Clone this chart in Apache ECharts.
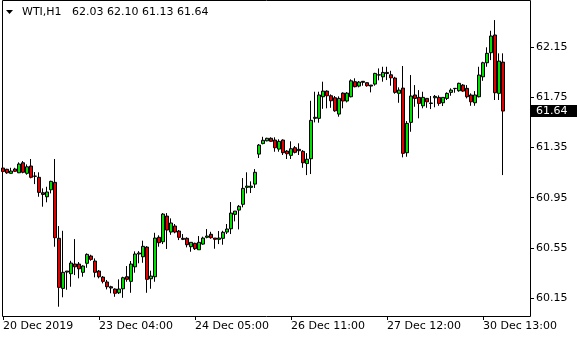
<!DOCTYPE html>
<html>
<head>
<meta charset="utf-8">
<script src="https://cdn.jsdelivr.net/npm/echarts@6/dist/echarts.min.js"></script>
<style>
  html, body { margin: 0; padding: 0; background: #fff; }
  #chart { width: 580px; height: 340px; }
</style>
</head>
<body>
<div id="chart"></div>
<script>
const symbolName = 'WTI,H1';
const tickLabels = ['20 Dec 2019', '23 Dec 04:00', '24 Dec 05:00', '26 Dec 11:00', '27 Dec 12:00', '30 Dec 13:00'];
const barsPerTick = 24;
const emptyBarsRight = 7;
const priceTicks = [60.15, 60.55, 60.95, 61.35, 61.75, 62.15];
const priceMin = 60.007;
const priceMax = 62.517;

const opens = [
  61.186,61.176,61.144,61.178,61.148,61.228,61.144,61.202,61.122,61.112,
  60.989,60.957,61.013,61.072,60.626,60.227,60.357,60.344,60.421,60.421,
  60.355,60.427,60.485,60.445,60.365,60.317,60.278,60.240,60.222,60.192,
  60.224,60.320,60.283,60.399,60.501,60.479,60.556,60.304,60.320,60.634,
  60.599,60.803,60.676,60.724,60.684,60.626,60.626,60.559,60.586,60.535,
  60.580,60.634,60.658,60.628,60.618,60.626,60.676,60.702,60.817,60.851,
  60.897,61.032,61.032,61.058,61.297,61.381,61.403,61.423,61.409,61.337,
  61.409,61.321,61.287,61.348,61.335,61.319,61.222,61.260,61.582,61.582,
  61.754,61.799,61.762,61.746,61.616,61.783,61.720,61.754,61.874,61.839,
  61.877,61.866,61.847,61.855,61.927,61.913,61.948,61.929,61.903,61.781,
  61.823,61.308,61.550,61.768,61.749,61.682,61.741,61.704,61.746,61.749,
  61.706,61.741,61.789,61.821,61.802,61.847,61.821,61.768,61.706,61.754,
  61.913,62.025,62.105,62.246,61.781,62.03
];
const closes = [
  61.158,61.148,61.162,61.160,61.218,61.152,61.196,61.112,61.120,60.992,
  60.976,60.995,61.080,60.631,60.235,60.355,60.365,60.429,60.399,60.383,
  60.405,60.498,60.458,60.355,60.320,60.283,60.240,60.230,60.188,60.222,
  60.312,60.299,60.421,60.501,60.509,60.562,60.299,60.325,60.628,60.591,
  60.819,60.692,60.748,60.676,60.634,60.618,60.575,60.594,60.543,60.594,
  60.628,60.644,60.631,60.618,60.628,60.674,60.700,60.827,60.843,60.881,
  61.024,61.042,61.042,61.152,61.369,61.407,61.423,61.399,61.348,61.399,
  61.308,61.300,61.340,61.311,61.324,61.228,61.256,61.566,61.590,61.768,
  61.799,61.762,61.722,61.642,61.741,61.720,61.783,61.881,61.834,61.871,
  61.869,61.842,61.839,61.940,61.929,61.948,61.939,61.905,61.789,61.807,
  61.303,61.542,61.760,61.741,61.701,61.749,61.714,61.701,61.757,61.701,
  61.749,61.781,61.807,61.819,61.861,61.799,61.754,61.714,61.768,61.927,
  62.025,62.100,62.238,61.786,62.038,61.64
];
const lows = [
  61.117,61.140,61.140,61.154,61.146,61.144,61.133,61.104,61.058,60.957,
  60.878,60.913,60.984,60.559,60.081,60.156,60.216,60.240,60.333,60.307,
  60.320,60.391,60.447,60.315,60.307,60.267,60.219,60.188,60.160,60.182,
  60.152,60.280,60.192,60.352,60.427,60.431,60.192,60.224,60.280,60.559,
  60.580,60.541,60.654,60.666,60.612,60.612,60.554,60.519,60.533,60.533,
  60.575,60.626,60.623,60.543,60.580,60.575,60.660,60.660,60.761,60.697,
  60.873,60.984,60.987,61.027,61.266,61.375,61.399,61.395,61.316,61.316,
  61.290,61.258,61.258,61.303,61.290,61.188,61.130,61.138,61.550,61.547,
  61.658,61.662,61.666,61.634,61.595,61.662,61.709,61.749,61.829,61.829,
  61.842,61.834,61.789,61.842,61.885,61.874,61.887,61.842,61.778,61.706,
  61.271,61.276,61.475,61.674,61.582,61.662,61.666,61.656,61.670,61.682,
  61.680,61.728,61.762,61.786,61.794,61.794,61.741,61.682,61.682,61.749,
  61.881,61.993,62.046,61.728,61.728,61.13
];
const highs = [
  61.196,61.180,61.188,61.188,61.231,61.242,61.215,61.258,61.154,61.152,
  61.024,61.037,61.085,61.258,60.724,60.686,60.365,60.447,60.620,60.437,
  60.411,60.506,60.495,60.466,60.373,60.325,60.294,60.248,60.227,60.299,
  60.320,60.405,60.445,60.522,60.524,60.607,60.564,60.368,60.670,60.650,
  60.827,60.827,60.785,60.740,60.692,60.660,60.634,60.594,60.591,60.644,
  60.639,60.700,60.678,60.628,60.684,60.686,60.740,60.915,60.843,60.891,
  61.106,61.152,61.080,61.178,61.377,61.435,61.427,61.431,61.431,61.415,
  61.415,61.329,61.399,61.361,61.383,61.329,61.305,61.722,61.794,61.794,
  61.874,61.805,61.773,61.760,61.757,61.789,61.791,61.893,61.901,61.879,
  61.879,61.869,61.847,61.945,61.980,61.993,61.993,61.961,61.913,61.829,
  61.999,61.560,61.927,61.847,61.807,61.794,61.741,61.760,61.768,61.765,
  61.749,61.789,61.821,61.823,61.866,61.855,61.847,61.781,61.799,61.993,
  62.033,62.148,62.280,62.365,62.100,62.10
];

const nBars = opens.length + emptyBarsRight;
const categories = [];
for (let i = 0; i < nBars; i++) categories.push(String(i));
const candleData = opens.map((o, i) => [o, closes[i], lows[i], highs[i]]);
const isTick = (i) => i % barsPerTick === 0 && (i / barsPerTick) < tickLabels.length;

const FONT = 'DejaVu Sans';
const chart = echarts.init(document.getElementById('chart'), null, { renderer: 'canvas' });

chart.setOption({
  animation: false,
  backgroundColor: '#ffffff',
  grid: { left: 3, right: 49, top: 1, bottom: 24, show: false },
  xAxis: {
    type: 'category',
    data: categories,
    boundaryGap: false,
    axisLine: { show: false },
    axisTick: { show: true, length: 4, interval: (i) => isTick(i), lineStyle: { color: '#000', width: 1 } },
    axisLabel: {
      show: true,
      interval: (i) => isTick(i),
      formatter: (v, i) => tickLabels[i / barsPerTick] || '',
      align: 'left',
      margin: 5,
      color: '#000',
      fontFamily: FONT,
      fontSize: 11
    },
    splitLine: { show: false }
  },
  yAxis: {
    type: 'value',
    position: 'right',
    min: priceMin,
    max: priceMax,
    scale: true,
    axisLine: { show: false },
    axisTick: { show: true, length: 3, customValues: priceTicks, lineStyle: { color: '#000' } },
    axisLabel: {
      show: true,
      customValues: priceTicks,
      formatter: (v) => Number(v).toFixed(2),
      margin: 5,
      color: '#000',
      fontFamily: FONT,
      fontSize: 11
    },
    splitLine: { show: false }
  },
  series: [{
    type: 'candlestick',
    data: candleData,
    barWidth: 3,
    itemStyle: {
      color: '#00e000',
      color0: '#e00000',
      borderColor: '#000',
      borderColor0: '#000',
      borderColorDoji: '#000',
      borderWidth: 1
    }
  }]
});

const lastClose = closes[closes.length - 1];
const lastY = chart.convertToPixel({ yAxisIndex: 0 }, lastClose);
const last = candleData.length - 1;
const headerValues = [opens[last], highs[last], lows[last], closes[last]].map(v => v.toFixed(2)).join(' ');

chart.setOption({
  graphic: [
    { type: 'rect', silent: true, shape: { x: 2.5, y: 0.5, width: 528, height: 316 },
      style: { fill: 'none', stroke: '#000', lineWidth: 1 } },
    { type: 'polygon', silent: true, shape: { points: [[6, 10], [13, 10], [9.5, 14]] },
      style: { fill: '#000' } },
    { type: 'text', silent: true, x: 22, y: 12,
      style: { text: symbolName, fill: '#000', font: '11px "DejaVu Sans"', verticalAlign: 'middle' } },
    { type: 'text', silent: true, x: 72, y: 12,
      style: { text: headerValues, fill: '#000', font: '11px "DejaVu Sans"', verticalAlign: 'middle' } },
    { type: 'rect', silent: true, shape: { x: 531, y: Math.round(lastY) - 6, width: 46, height: 12 },
      style: { fill: '#000' } },
    { type: 'text', silent: true, x: 536, y: Math.round(lastY),
      style: { text: lastClose.toFixed(2), fill: '#fff', font: '11px "DejaVu Sans"', verticalAlign: 'middle' } }
  ]
});
</script>
</body>
</html>
